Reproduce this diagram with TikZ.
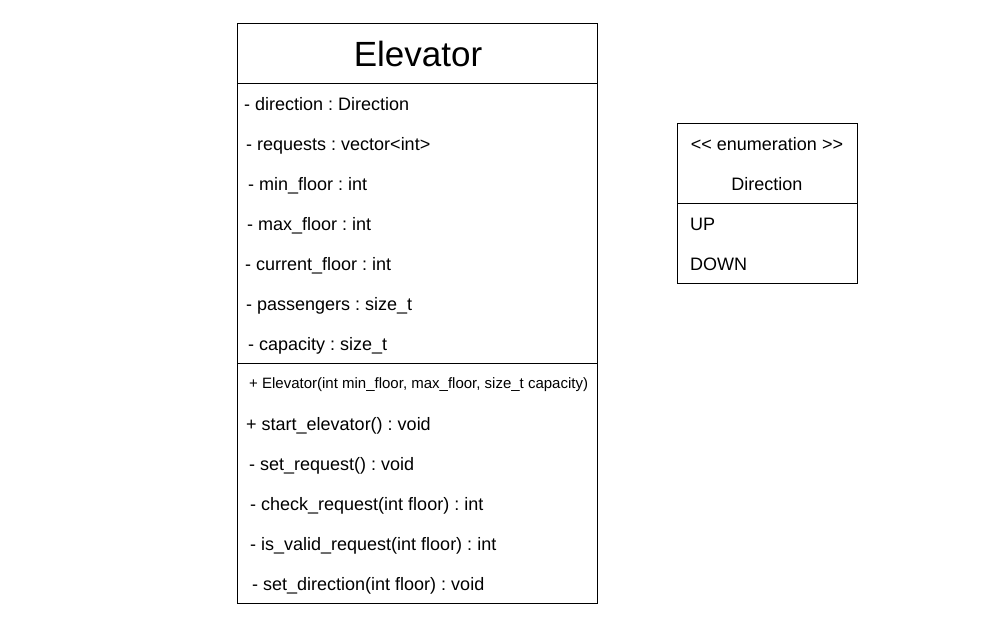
\documentclass[tikz,border=0pt]{standalone}
\usepackage{fontspec}
\setmainfont{Liberation Sans}
\frenchspacing
\begin{document}
\begin{tikzpicture}[x=1pt,y=-1pt,
  box/.style={draw=black,line width=0.9pt},
  sep/.style={draw=black,line width=0.9pt},
  item/.style={anchor=base west,inner sep=0pt,font=\fontsize{18}{20}\selectfont},
  small/.style={anchor=base west,inner sep=0pt,font=\fontsize{15}{17}\selectfont},
  ctext/.style={anchor=base,inner sep=0pt,font=\fontsize{18}{20}\selectfont},
  title/.style={anchor=base,inner sep=0pt,font=\fontsize{35}{40}\selectfont}]
\useasboundingbox (0,0) rectangle (1001,627);
\fill[white] (0,0) rectangle (1001,627);
% Elevator class
\coordinate (e1) at (237,23);
\coordinate (e2) at (597,603);
\draw[box] (e1) rectangle (e2);
\coordinate (s1l) at (237,83); \coordinate (s1r) at (597,83);
\coordinate (s2l) at (237,363); \coordinate (s2r) at (597,363);
\draw[sep] (s1l) -- (s1r);
\draw[sep] (s2l) -- (s2r);
\node[title] (etitle) at (418,66) {Elevator};
\node[item] (a1) at (244,110) {- direction : Direction};
\node[item] (a2) at (246,150) {- requests : vector<int>};
\node[item] (a3) at (248,190) {- min\_floor : int};
\node[item] (a4) at (247,230) {- max\_floor : int};
\node[item] (a5) at (245,270) {- current\_floor : int};
\node[item] (a6) at (246,310) {- passengers : size\_t};
\node[item] (a7) at (248,350) {- capacity : size\_t};
\node[small] (m0) at (249,388.5) {+ Elevator(int min\_floor, max\_floor, size\_t capacity)};
\node[item] (m1) at (246,430) {+ start\_elevator() : void};
\node[item] (m2) at (249,470) {- set\_request() : void};
\node[item] (m3) at (250,510) {- check\_request(int floor) : int};
\node[item] (m4) at (250,550) {- is\_valid\_request(int floor) : int};
\node[item] (m5) at (252,590) {- set\_direction(int floor) : void};
% Direction enumeration
\coordinate (d1) at (677,123);
\coordinate (d2) at (857,283);
\draw[box] (d1) rectangle (d2);
\coordinate (d3l) at (677,203); \coordinate (d3r) at (857,203);
\draw[sep] (d3l) -- (d3r);
\node[ctext] (st) at (767,150) {<{}< enumeration >{}>};
\node[ctext] (dn) at (767,190) {Direction};
\node[item] (up) at (690,230) {UP};
\node[item] (down) at (690,270) {DOWN};
\end{tikzpicture}
\end{document}
